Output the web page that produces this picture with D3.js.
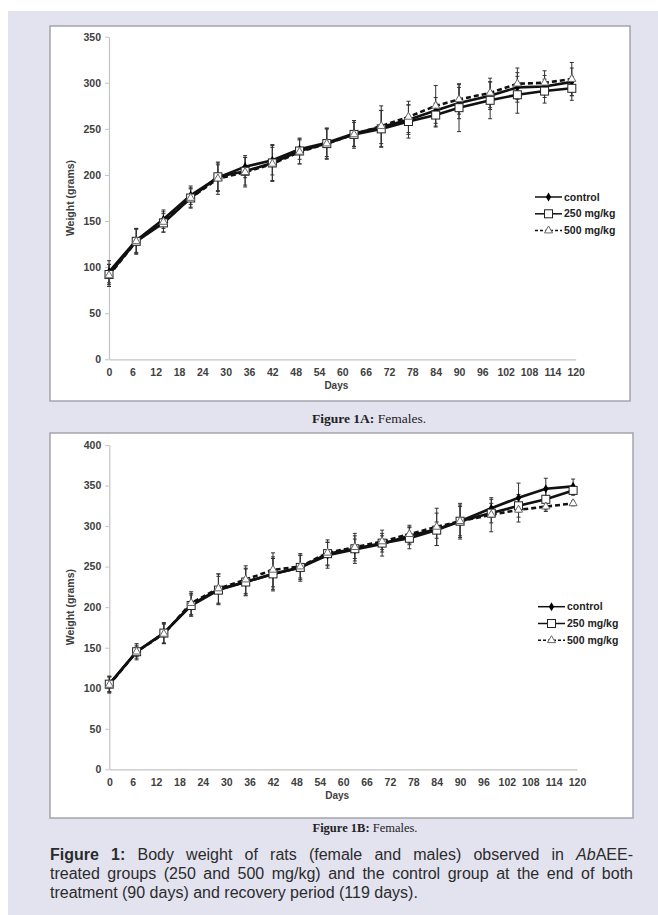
<!DOCTYPE html>
<meta charset="utf-8">
<html>
<head>
<script src="https://d3js.org/d3.v7.min.js"></script>
<style>
  body { margin: 0; background: #fff; }
  #page { position: relative; width: 658px; height: 915px; overflow: hidden; }
  svg { position: absolute; left: 0; top: 0; }
  .txt { position: absolute; left: 50px; width: 583px; font-family: "Liberation Sans", Arial, sans-serif;
         font-size: 16px; line-height: 19px; color: #2b2b2b; white-space: nowrap; }
  .just { text-align: justify; text-align-last: justify; white-space: normal; }
</style>
</head>
<body>
<div id="page">
<svg width="658" height="915"></svg>
<div class="txt just" style="top:845px"><b>Figure 1:</b> Body weight of rats (female and males) observed in <i>Ab</i>AEE-</div>
<div class="txt just" style="top:864px">treated groups (250 and 500 mg/kg) and the control group at the end of both</div>
<div class="txt" style="top:883px">treatment (90 days) and recovery period (119 days).</div>
</div>
<script>

var days = [0, 7, 14, 21, 28, 35, 42, 49, 56, 63, 70, 77, 84, 90, 98, 105, 112, 119];
var xTicks = d3.range(0, 121, 6);
var seriesNames = ["control", "250 mg/kg", "500 mg/kg"];

// Figure 1A
var controlA = [95, 129, 152, 178, 197, 209, 216, 228, 235, 245, 252, 260, 270, 278, 286, 295, 296, 301];
var mg250A   = [92, 128, 148, 175, 198, 204, 213, 226, 234, 244, 250, 258, 265, 273, 281, 287, 291, 294];
var mg500A   = [91, 128, 149, 175, 196, 203, 212, 225, 234, 244, 253, 263, 275, 282, 289, 299, 300, 304];
var controlSdA = [12, 13, 10, 10, 14, 12, 16, 11, 15, 14, 18, 16, 14, 17, 15, 16, 12, 15];
var mg250SdA   = [11, 13, 10, 11, 16, 15, 20, 14, 17, 13, 20, 18, 13, 26, 20, 20, 13, 13];
var mg500SdA   = [12, 14, 11, 10, 17, 16, 18, 13, 16, 15, 22, 17, 22, 16, 16, 17, 13, 18];
var yTicksA = [0, 50, 100, 150, 200, 250, 300, 350];

// Figure 1B
var controlB = [105, 145, 168, 203, 222, 231, 241, 249, 264, 271, 278, 288, 296, 306, 322, 335, 346, 349];
var mg250B   = [105, 145, 168, 202, 221, 231, 241, 249, 266, 272, 279, 285, 295, 306, 316, 325, 333, 344];
var mg500B   = [104, 145, 167, 205, 223, 234, 246, 250, 267, 274, 281, 290, 299, 306, 314, 320, 324, 328];
var controlSdB = [9, 10, 13, 14, 19, 17, 21, 15, 16, 17, 10, 11, 20, 20, 11, 18, 13, 9];
var mg250SdB   = [10, 6, 12, 13, 17, 16, 19, 17, 14, 12, 16, 13, 10, 22, 12, 14, 13, 6];
var mg500SdB   = [10, 8, 12, 14, 18, 17, 21, 14, 16, 17, 10, 11, 23, 18, 21, 15, 6, 3];
var yTicksB = [0, 50, 100, 150, 200, 250, 300, 350, 400];

var svg = d3.select("svg");
var font = "'Liberation Sans', Arial, sans-serif";

// page background
svg.append("rect").attr("x", 8).attr("y", 11).attr("width", 650).attr("height", 904).attr("fill", "#e3e3f0");

function panel(cfg) {
  var g = svg.append("g");
  g.append("rect")
      .attr("x", cfg.box[0]).attr("y", cfg.box[1])
      .attr("width", cfg.box[2]).attr("height", cfg.box[3])
      .attr("fill", "#fff").attr("stroke", "#a4a4ac").attr("stroke-width", 1.5);

  var x = d3.scaleLinear().domain([0, 120]).range(cfg.xr);
  var y = d3.scaleLinear().domain([0, cfg.ymax]).range(cfg.yr);

  var ax = g.append("g")
      .attr("transform", "translate(0," + cfg.yr[0] + ")")
      .call(d3.axisBottom(x).tickValues(xTicks).tickSize(0).tickPadding(9));
  var ay = g.append("g")
      .attr("transform", "translate(" + cfg.xr[0] + ",0)")
      .call(d3.axisLeft(y).tickValues(cfg.yTicks).tickSize(4).tickSizeOuter(0).tickPadding(4));
  [ax, ay].forEach(function(a) {
    a.select(".domain").attr("stroke", "#c4c4c4").attr("stroke-width", 1.2);
    a.selectAll(".tick line").attr("stroke", "#c4c4c4");
    a.selectAll("text").attr("font-family", font).attr("font-size", 10.5)
      .attr("font-weight", "bold").attr("fill", "#404040");
  });

  g.append("text")
      .attr("x", x(60) - 6).attr("y", cfg.yr[0] + 30)
      .attr("text-anchor", "middle").attr("font-family", font).attr("font-size", 10)
      .attr("font-weight", "bold").attr("fill", "#404040").text("Days");
  g.append("text")
      .attr("transform", "translate(" + (cfg.xr[0] - 35) + "," + ((cfg.yr[0] + cfg.yr[1]) / 2) + ") rotate(-90)")
      .attr("text-anchor", "middle").attr("font-family", font).attr("font-size", 10.5)
      .attr("font-weight", "bold").attr("fill", "#404040").text("Weight (grams)");

  var series = [
    {vals: cfg.data[0], sd: cfg.sd[0], dash: null},
    {vals: cfg.data[1], sd: cfg.sd[1], dash: null},
    {vals: cfg.data[2], sd: cfg.sd[2], dash: "5,3"}
  ];

  var line = d3.line().x(function(d, i) { return x(days[i]); }).y(function(d) { return y(d); });

  series.forEach(function(s) {
    g.append("path").datum(s.vals)
        .attr("d", line).attr("fill", "none").attr("stroke", "#111")
        .attr("stroke-width", 2.6).attr("stroke-dasharray", s.dash);
  });

  // error bars
  series.forEach(function(s) {
    var eb = g.append("g").attr("stroke", "#333").attr("stroke-width", 1);
    s.vals.forEach(function(v, i) {
      var cx = x(days[i]);
      eb.append("line").attr("x1", cx).attr("x2", cx).attr("y1", y(v - s.sd[i])).attr("y2", y(v + s.sd[i]));
      eb.append("line").attr("x1", cx - 2).attr("x2", cx + 2).attr("y1", y(v - s.sd[i])).attr("y2", y(v - s.sd[i]));
      eb.append("line").attr("x1", cx - 2).attr("x2", cx + 2).attr("y1", y(v + s.sd[i])).attr("y2", y(v + s.sd[i]));
    });
  });

  series.forEach(function(s, k) {
    s.vals.forEach(function(v, i) {
      marker(g, k, x(days[i]), y(v));
    });
  });

  // legend
  var lg = g.append("g");
  seriesNames.forEach(function(name, k) {
    var ly = cfg.legend[1] + k * 16.8;
    lg.append("line").attr("x1", cfg.legend[0]).attr("x2", cfg.legend[0] + 27)
        .attr("y1", ly).attr("y2", ly).attr("stroke", "#111").attr("stroke-width", 1.5)
        .attr("stroke-dasharray", k === 2 ? "3,2" : null);
    marker(lg, k, cfg.legend[0] + 13.5, ly);
    lg.append("text").attr("x", cfg.legend[0] + 29).attr("y", ly + 3.6)
        .attr("font-family", font).attr("font-size", 10.5).attr("font-weight", "bold")
        .attr("fill", "#222").text(name);
  });
}

function marker(g, k, cx, cy) {
  if (k === 0) {
    g.append("path").attr("d", d3.symbol(d3.symbolDiamond, 24)())
        .attr("transform", "translate(" + cx + "," + cy + ")").attr("fill", "#000");
  } else if (k === 1) {
    g.append("rect").attr("x", cx - 4).attr("y", cy - 4).attr("width", 8).attr("height", 8)
        .attr("fill", "#fff").attr("stroke", "#222").attr("stroke-width", 1);
  } else {
    g.append("path").attr("d", d3.symbol(d3.symbolTriangle, 28)())
        .attr("transform", "translate(" + cx + "," + cy + ")")
        .attr("fill", "#fff").attr("stroke", "#666").attr("stroke-width", 1);
  }
}

panel({
  box: [50, 26, 580, 375],
  xr: [109, 575.7], yr: [359.3, 36.7], ymax: 350, yTicks: yTicksA,
  data: [controlA, mg250A, mg500A], sd: [controlSdA, mg250SdA, mg500SdA],
  legend: [535, 197]
});

panel({
  box: [50, 433, 583, 385],
  xr: [109.3, 577], yr: [769.3, 445], ymax: 400, yTicks: yTicksB,
  data: [controlB, mg250B, mg500B], sd: [controlSdB, mg250SdB, mg500SdB],
  legend: [538, 606.7]
});

// panel captions
function caption(cx, cy, size, label) {
  var t = svg.append("text").attr("x", cx).attr("y", cy).attr("text-anchor", "middle")
      .attr("font-family", "'Liberation Serif', 'Times New Roman', serif").attr("font-size", size)
      .attr("fill", "#222");
  t.append("tspan").attr("font-weight", "bold").text(label + " ");
  t.append("tspan").text("Females.");
}
caption(369, 422.5, 13.5, "Figure 1A:");
caption(365, 832, 12.5, "Figure 1B:");

</script>
</body>
</html>
